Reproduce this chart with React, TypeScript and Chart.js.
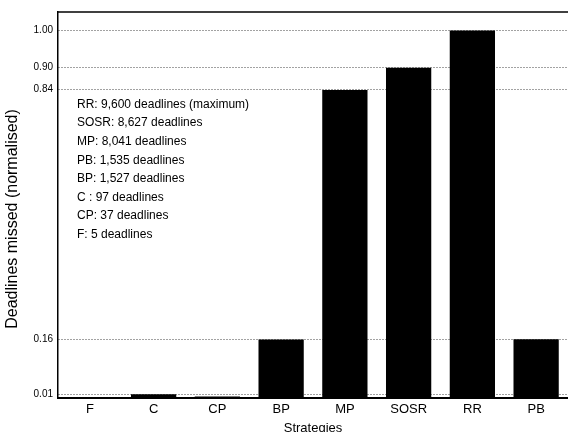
import React, { useEffect, useRef } from "react";
import { Chart, registerables } from "chart.js";

Chart.register(...registerables);

const categories = ["F", "C", "CP", "BP", "MP", "SOSR", "RR", "PB"];
// Normalised deadlines missed (relative to RR = 9,600)
const normalisedMissed = [0.0005, 0.0101, 0.0039, 0.159, 0.8376, 0.8986, 1.0, 0.1599];
const yTickValues = [0.01, 0.16, 0.84, 0.9, 1.0];
const yAxisTitle = "Deadlines missed (normalised)";
const xAxisTitle = "Strategies";
const noteLines = [
  "RR: 9,600 deadlines (maximum)",
  "SOSR: 8,627 deadlines",
  "MP: 8,041 deadlines",
  "PB: 1,535 deadlines",
  "BP: 1,527 deadlines",
  "C : 97 deadlines",
  "CP: 37 deadlines",
  "F: 5 deadlines",
];

const FONT = "'Liberation Sans', Arial, Helvetica, sans-serif";

const framePlugin = {
  id: "frameAndNotes",
  afterDraw(chart: any) {
    const { ctx, chartArea } = chart;
    ctx.save();
    ctx.strokeStyle = "#000";
    ctx.lineWidth = 1.5;
    ctx.beginPath();
    ctx.moveTo(chartArea.left, chartArea.top);
    ctx.lineTo(chartArea.right, chartArea.top);
    ctx.stroke();
    ctx.font = `12px ${FONT}`;
    ctx.fillStyle = "#000";
    ctx.textAlign = "left";
    ctx.textBaseline = "middle";
    noteLines.forEach((t, i) => {
      ctx.fillText(t, chartArea.left + 19, chartArea.top + 92.5 + i * 18.6);
    });
    // rotated y-axis title
    ctx.translate(13, 219);
    ctx.rotate(-Math.PI / 2);
    ctx.font = `16px ${FONT}`;
    ctx.textAlign = "center";
    ctx.fillText(yAxisTitle, 0, 0);
    ctx.restore();
  },
};

export default function App() {
  const ref = useRef<HTMLCanvasElement | null>(null);
  useEffect(() => {
    if (!ref.current) return;
    const chart = new Chart(ref.current, {
      type: "bar",
      data: {
        labels: categories,
        datasets: [
          {
            data: normalisedMissed,
            backgroundColor: "#000",
            borderWidth: 0,
            categoryPercentage: 1,
            barPercentage: 0.71,
          },
        ],
      },
      options: {
        responsive: false,
        animation: false,
        devicePixelRatio: 1,
        layout: { padding: { top: 12, right: 0, left: 0, bottom: 0 } },
        plugins: {
          legend: { display: false },
          tooltip: { enabled: false },
        },
        scales: {
          x: {
            grid: { display: false, drawTicks: false },
            border: { display: true, color: "#000", width: 2 },
            ticks: {
              color: "#000",
              font: { family: FONT, size: 13 },
              padding: 4,
              maxRotation: 0,
              autoSkip: false,
            },
            title: {
              display: true,
              text: xAxisTitle,
              color: "#000",
              font: { family: FONT, size: 13 },
              padding: { top: 0, bottom: -4 },
            },
            afterFit(scale: any) {
              scale.height = 34;
            },
          },
          y: {
            min: 0,
            max: 1.05,
            grid: { color: "#444", lineWidth: 1, drawTicks: false },
            border: { display: true, color: "#000", width: 1.5, dash: [1, 2] },
            ticks: {
              color: "#000",
              font: { family: FONT, size: 10 },
              padding: 5,
              callback: (v: any) => Number(v).toFixed(2),
            },
            afterBuildTicks(scale: any) {
              scale.ticks = yTickValues.map((v) => ({ value: v }));
            },
            afterFit(scale: any) {
              scale.width = 58;
            },
          },
        },
      },
      plugins: [framePlugin],
    });
    return () => chart.destroy();
  }, []);
  return (
    <div style={{ position: "fixed", left: 0, top: 0, width: 568, height: 432, background: "#fff" }}>
      <canvas ref={ref} width={568} height={432} style={{ display: "block" }} />
    </div>
  );
}
